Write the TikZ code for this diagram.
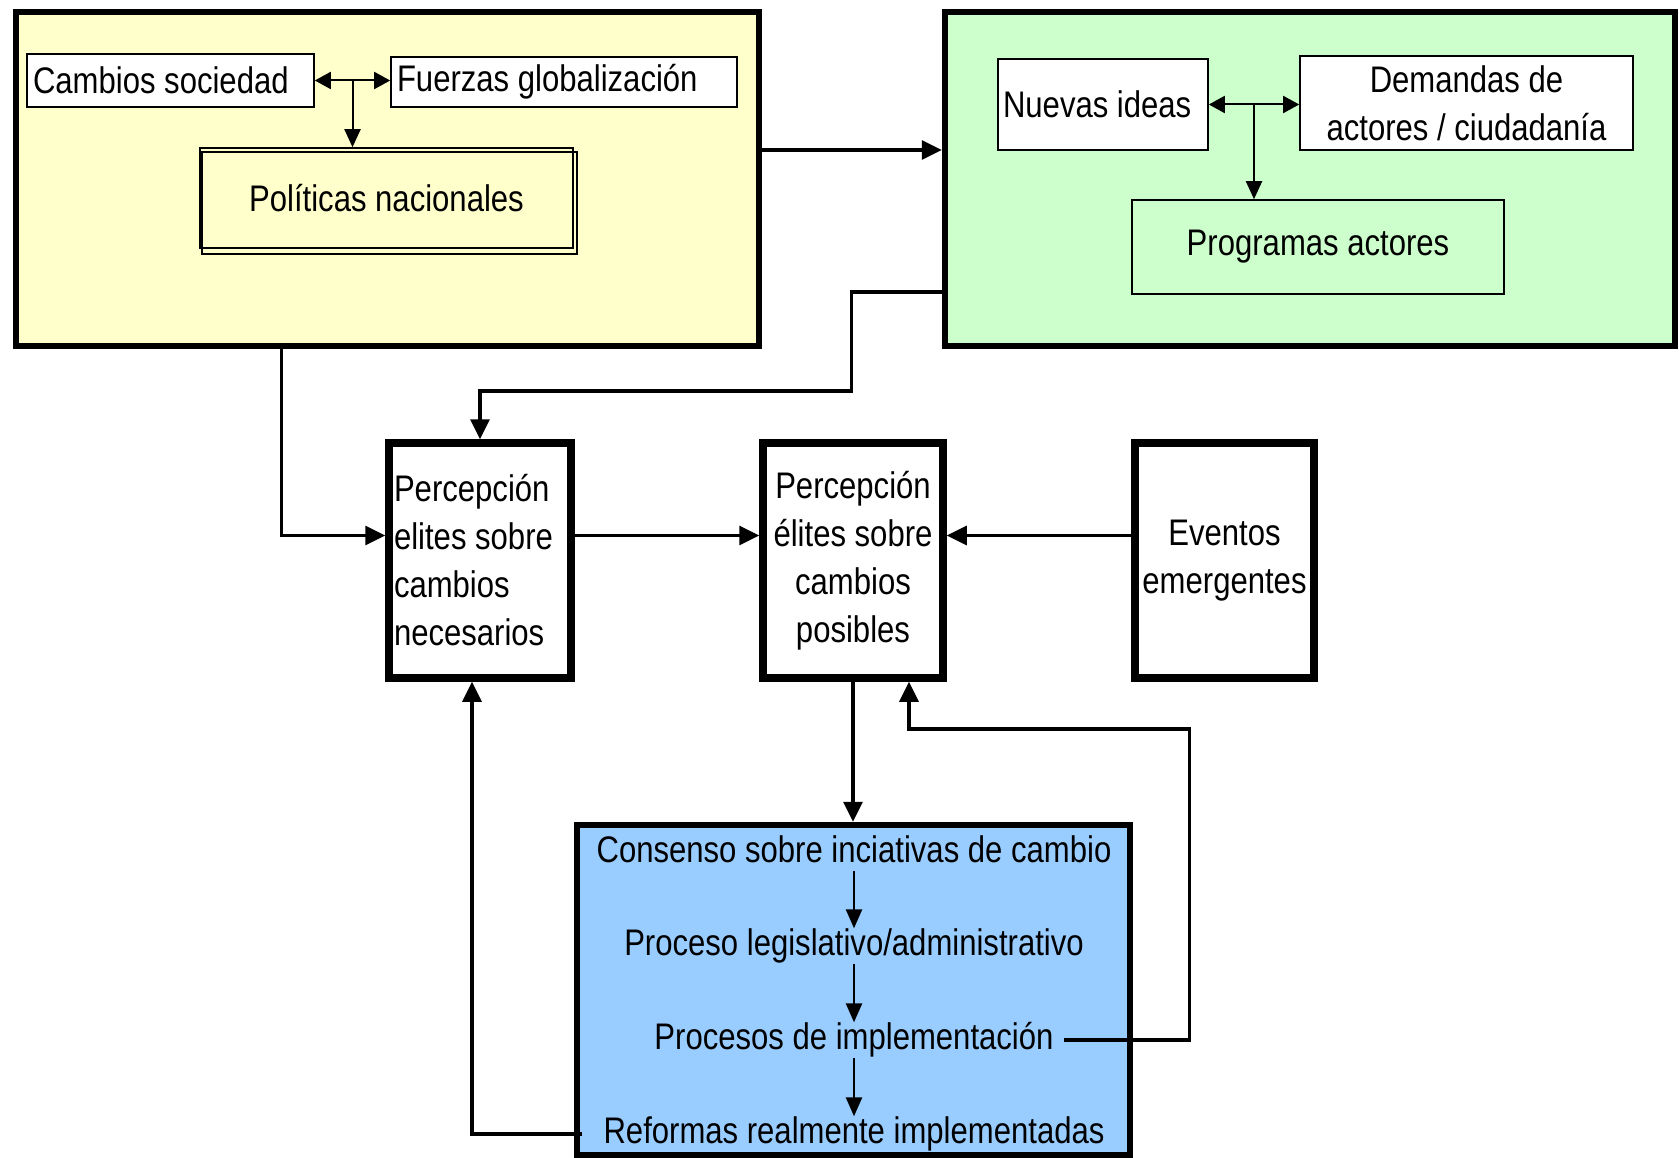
\documentclass[tikz,border=0pt]{standalone}
\usepackage{fontspec}
\setmainfont{Liberation Sans}[FakeStretch=0.84]
\usetikzlibrary{arrows.meta,calc}
\definecolor{ylw}{HTML}{FFFFCC}
\definecolor{grn}{HTML}{CCFFCC}
\definecolor{blu}{HTML}{99CCFF}
\begin{document}
\begin{tikzpicture}[x=1pt,y=-1pt,
  every node/.style={font=\fontsize{37}{48}\selectfont},
  outerbox/.style={draw, line width=6.5pt, inner sep=0pt},
  innerbox/.style={draw, line width=1.6pt, fill=white, inner sep=0pt},
  elitebox/.style={draw, line width=7.5pt, fill=white, inner sep=0pt, minimum height=235pt},
  txt/.style={inner sep=0pt, inner xsep=10pt, text height=27pt, text depth=8pt},
  arr/.style={line width=3.4pt, -{Triangle[length=20pt,width=19pt]}},
  sarr/.style={line width=2pt, -{Triangle[length=18pt,width=16pt]}},
  dsarr/.style={line width=2pt, {Triangle[length=16pt,width=17pt]}-{Triangle[length=16pt,width=17pt]}},
  barr/.style={line width=2.5pt, -{Triangle[length=19pt,width=16pt]}}]
\useasboundingbox (0,0) rectangle (1679,1158);
\fill[white] (0,0) rectangle (1679,1158);

% big boxes
\node[outerbox, fill=ylw, minimum width=743pt, minimum height=334pt] (yellow) at (387.5,179) {};
\node[outerbox, fill=grn, minimum width=730pt, minimum height=334pt] (green) at (1310,179) {};

% yellow content
\node[innerbox, minimum width=287pt, minimum height=53pt, text width=275pt, align=flush left, inner xsep=6pt] (camb) at (170.5,80.5) {Cambios sociedad};
\node[innerbox, minimum width=346pt, minimum height=50pt, text width=334pt, align=flush left, inner xsep=6pt] (fuer) at (564,82) {Fuerzas globalización};
\node[draw, line width=1.6pt, minimum width=373pt, minimum height=100pt, inner sep=0pt] (pol) at (386.5,198) {Políticas nacionales};
\draw[line width=2pt] ([xshift=3pt,yshift=-5pt]pol.north west) rectangle ([xshift=3pt,yshift=-5pt]pol.south east);
\draw[dsarr] (camb.east) -- (camb.east -| fuer.west);
\coordinate (m1) at ($(camb.east)!.5!(camb.east -| fuer.west)$);
\draw[sarr] (m1) -- (m1 |- pol.north);

% green content
\node[innerbox, minimum width=210pt, minimum height=91pt, text width=200pt, align=flush left, inner xsep=5pt] (nue) at (1103,104.5) {Nuevas ideas};
\node[innerbox, minimum width=333pt, minimum height=94pt, align=center] (dem) at (1466.5,103) {Demandas de\\actores / ciudadanía};
\node[draw, line width=1.6pt, minimum width=372pt, minimum height=94pt, inner sep=0pt] (prog) at (1318,247) {Programas actores};
\draw[dsarr] (nue.east) -- (nue.east -| dem.west);
\coordinate (m2) at ($(nue.east)!.5!(nue.east -| dem.west)$);
\draw[sarr] (m2) -- (m2 |- prog.north);

% elite boxes
\node[elitebox, minimum width=182pt, text width=172pt, inner xsep=5pt, align=flush left] (nec) at (480,560.5) {Percepción\\elites sobre\\cambios\\necesarios};
\node[elitebox, minimum width=180pt, align=center] (pos) at (853,560.5) {Percepción\\élites sobre\\cambios\\posibles};
\node[elitebox, minimum width=179pt, align=center] (ev) at (1224.5,560.5) {Eventos\\emergentes};

% blue box
\node[outerbox, fill=blu, minimum width=553pt, minimum height=330pt] (blue) at (853.5,990) {};
\node[txt] (cons) at (854,853) {Consenso sobre inciativas de cambio};
\node[txt] (leg) at (854,946) {Proceso legislativo/administrativo};
\node[txt] (impl) at (854,1040) {Procesos de implementación};
\node[txt] (ref) at (854,1134) {Reformas realmente implementadas};
\draw[barr] (cons.south) -- (leg.north);
\draw[barr] (leg.south) -- (impl.north);
\draw[barr] (impl.south) -- (ref.north);

% connectors
\draw[arr] ([yshift=29pt]yellow.east) -- ([yshift=29pt]green.west);
\draw[arr] ([yshift=-113pt]green.west) -- ++(-90,0) -- ++(0,99) -| (nec.north);
\draw[arr] ([xshift=-106pt]yellow.south) |- ([yshift=25pt]nec.west);
\draw[arr] ([yshift=25pt]nec.east) -- ([yshift=25pt]pos.west);
\draw[arr] ([yshift=25pt]ev.west) -- ([yshift=25pt]pos.east);
\draw[arr] (pos.south) -- (pos.south |- blue.north);
\draw[arr] (impl.east) -| ++(126,-311) -| ([xshift=56pt]pos.south);
\draw[arr] ([xshift=-11pt]ref.west) -| ([xshift=-8pt]nec.south);
\end{tikzpicture}
\end{document}
